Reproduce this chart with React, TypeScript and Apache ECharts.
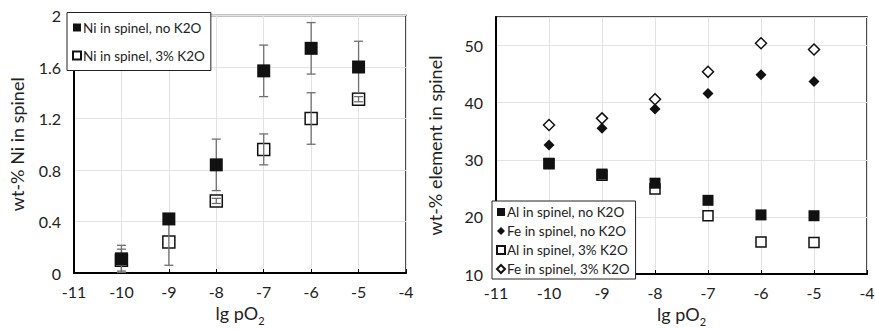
import React, { useEffect, useRef } from "react";
import * as echarts from "echarts";

const xVals = [-10, -9, -8, -7, -6, -5];
// left chart
const niNoK2O = [0.11, 0.42, 0.84, 1.57, 1.745, 1.6];
const niNoK2OErr = [0.105, 0.02, 0.2, 0.2, 0.2, 0.2];
const ni3K2O = [0.1, 0.24, 0.56, 0.96, 1.2, 1.35];
const ni3K2OErr = [0.085, 0.18, 0.02, 0.12, 0.2, 0.02];
// right chart
const alNoK2O = [29.4, 27.5, 25.9, 22.9, 20.35, 20.2];
const feNoK2O = [32.6, 35.5, 38.9, 41.6, 44.9, 43.7];
const al3K2O = [29.3, 27.3, 24.9, 20.2, 15.6, 15.5];
const fe3K2O = [36.1, 37.25, 40.6, 45.4, 50.4, 49.3];

const FONT = "Lato, 'Open Sans', sans-serif";

const pair = (ys: number[]) => xVals.map((x, i) => [x, ys[i]]);
const triple = (ys: number[], es: number[]) => xVals.map((x, i) => [x, ys[i], es[i]]);

function errRender(params: any, api: any) {
  const x = api.value(0);
  const y = api.value(1);
  const e = api.value(2);
  const top = api.coord([x, y + e]);
  const bot = api.coord([x, y - e]);
  const hw = 4.5;
  const st = { stroke: "#6f6f6f", lineWidth: 1.3 };
  return {
    type: "group",
    children: [
      { type: "line", shape: { x1: top[0], y1: top[1], x2: bot[0], y2: bot[1] }, style: st },
      { type: "line", shape: { x1: top[0] - hw, y1: top[1], x2: top[0] + hw, y2: top[1] }, style: st },
      { type: "line", shape: { x1: bot[0] - hw, y1: bot[1], x2: bot[0] + hw, y2: bot[1] }, style: st },
    ],
  };
}

export default function App() {
  const ref = useRef<HTMLDivElement>(null);
  useEffect(() => {
    const chart = echarts.init(ref.current!, null, { renderer: "svg" });
    const xAxisCommon = (gridIndex: number) => ({
      type: "value",
      gridIndex,
      min: -11,
      max: -4,
      interval: 1,
      name: "{a|lg pO}{b|2}",
      nameLocation: "middle",
      nameGap: 26,
      nameTextStyle: {
        rich: {
          a: { fontFamily: FONT, fontSize: 18, color: "#222", lineHeight: 22, verticalAlign: "bottom" },
          b: { fontFamily: FONT, fontSize: 11, color: "#222", lineHeight: 22, verticalAlign: "bottom", padding: [0, 0, -4, 0] },
        },
      },
      axisLine: { show: true, onZero: false, lineStyle: { color: "#000", width: 2 } },
      axisTick: { show: true, inside: true, length: 4, lineStyle: { color: "#000", width: 1 } },
      axisLabel: { color: "#222", fontFamily: FONT, fontSize: 16, margin: 10 },
      splitLine: { show: true, lineStyle: { color: "#e3e3e3", width: 1 } },
    });
    const option: any = {
      animation: false,
      grid: [
        { left: 74, top: 15.5, width: 332, height: 257.5, outerBoundsMode: "none", containLabel: false, show: true, borderColor: "#111", borderWidth: 1.5, backgroundColor: "transparent" },
        { left: 496, top: 17, width: 371, height: 257, outerBoundsMode: "none", containLabel: false, show: true, borderColor: "#111", borderWidth: 1.5, backgroundColor: "transparent" },
      ],
      xAxis: [xAxisCommon(0), xAxisCommon(1)],
      yAxis: [
        {
          type: "value",
          gridIndex: 0,
          min: 0,
          max: 2,
          interval: 0.4,
          name: "wt-% Ni in spinel",
          nameLocation: "middle",
          nameGap: 48,
          nameTextStyle: { fontFamily: FONT, fontSize: 18, color: "#222" },
          axisLine: { show: true, lineStyle: { color: "#000", width: 2 } },
          axisTick: { show: false },
          axisLabel: { color: "#222", fontFamily: FONT, fontSize: 16, margin: 13, formatter: (v: number) => String(+v.toFixed(1)) },
          splitLine: { show: true, lineStyle: { color: "#e3e3e3", width: 1 } },
        },
        {
          type: "value",
          gridIndex: 1,
          min: 10,
          max: 55,
          interval: 10,
          name: "wt-% element in spinel",
          nameLocation: "middle",
          nameGap: 52,
          nameTextStyle: { fontFamily: FONT, fontSize: 18, color: "#222" },
          axisLine: { show: true, lineStyle: { color: "#000", width: 2 } },
          axisTick: { show: false },
          axisLabel: { color: "#222", fontFamily: FONT, fontSize: 16, margin: 13, showMaxLabel: false },
          splitLine: { show: true, lineStyle: { color: "#e3e3e3", width: 1 } },
        },
      ],
      legend: [
        {
          left: 67,
          top: 12.5,
          orient: "vertical",
          data: ["Ni in spinel, no K2O", "Ni in spinel, 3% K2O"],
          itemWidth: 8,
          itemHeight: 8,
          itemGap: 14,
          padding: [8, 6, 8, 5],
          backgroundColor: "#fff",
          borderColor: "#222",
          borderWidth: 1,
          textStyle: { fontFamily: FONT, fontSize: 13.5, color: "#222", padding: [0, 0, 0, -3] },
        },
        {
          left: 492,
          top: 201,
          orient: "vertical",
          data: ["Al in spinel, no K2O", "Fe in spinel, no K2O", "Al in spinel, 3% K2O", "Fe in spinel, 3% K2O"],
          itemWidth: 8,
          itemHeight: 8,
          itemGap: 5,
          padding: [4, 6, 3, 4],
          backgroundColor: "#fff",
          borderColor: "#222",
          borderWidth: 1,
          textStyle: { fontFamily: FONT, fontSize: 13.5, color: "#222", padding: [0, 0, 0, -3] },
        },
      ],
      series: [
        // left chart
        {
          name: "Ni in spinel, 3% K2O",
          type: "scatter",
          xAxisIndex: 0,
          yAxisIndex: 0,
          symbol: "rect",
          symbolSize: 12,
          itemStyle: { color: "#fff", borderColor: "#111", borderWidth: 1.5, opacity: 1 },
          data: pair(ni3K2O),
          z: 2,
        },
        {
          type: "custom",
          xAxisIndex: 0,
          yAxisIndex: 0,
          renderItem: errRender,
          data: triple(ni3K2O, ni3K2OErr),
          encode: { x: 0, y: 1 },
          z: 3,
          silent: true,
        },
        {
          type: "custom",
          xAxisIndex: 0,
          yAxisIndex: 0,
          renderItem: errRender,
          data: triple(niNoK2O, niNoK2OErr),
          encode: { x: 0, y: 1 },
          z: 3,
          silent: true,
        },
        {
          name: "Ni in spinel, no K2O",
          type: "scatter",
          xAxisIndex: 0,
          yAxisIndex: 0,
          symbol: "rect",
          symbolSize: 13,
          itemStyle: { color: "#111", opacity: 1 },
          data: pair(niNoK2O),
          z: 4,
        },
        // right chart
        {
          name: "Al in spinel, 3% K2O",
          type: "scatter",
          xAxisIndex: 1,
          yAxisIndex: 1,
          symbol: "rect",
          symbolSize: 10,
          itemStyle: { color: "#fff", borderColor: "#111", borderWidth: 1.5, opacity: 1 },
          data: pair(al3K2O),
          z: 2,
        },
        {
          name: "Fe in spinel, 3% K2O",
          type: "scatter",
          xAxisIndex: 1,
          yAxisIndex: 1,
          symbol: "diamond",
          symbolSize: 11,
          itemStyle: { color: "#fff", borderColor: "#111", borderWidth: 1.5, opacity: 1 },
          data: pair(fe3K2O),
          z: 2,
        },
        {
          name: "Al in spinel, no K2O",
          type: "scatter",
          xAxisIndex: 1,
          yAxisIndex: 1,
          symbol: "rect",
          symbolSize: 11,
          itemStyle: { color: "#111", opacity: 1 },
          data: pair(alNoK2O),
          z: 4,
        },
        {
          name: "Fe in spinel, no K2O",
          type: "scatter",
          xAxisIndex: 1,
          yAxisIndex: 1,
          symbol: "diamond",
          symbolSize: 11,
          itemStyle: { color: "#111", opacity: 1 },
          data: pair(feNoK2O),
          z: 4,
        },
      ],
    };
    chart.setOption(option);
    return () => chart.dispose();
  }, []);
  return (
    <div
      ref={ref}
      style={{ position: "fixed", left: 0, top: 0, width: 875, height: 329, background: "#fff" }}
    />
  );
}
